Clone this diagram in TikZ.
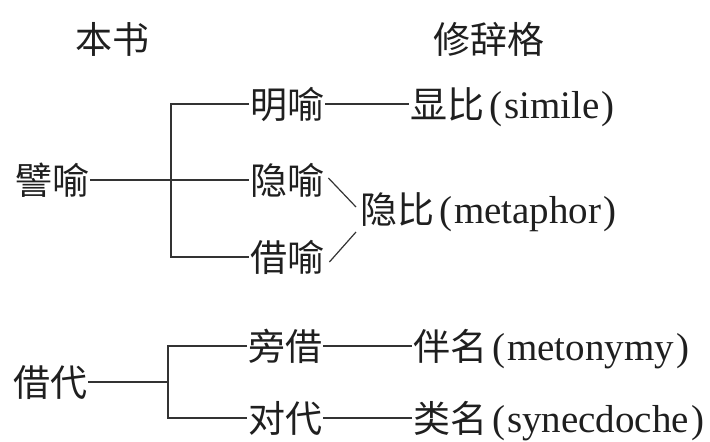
\documentclass[tikz,border=0pt]{standalone}
\usepackage{fontspec}
\setmainfont{Liberation Serif}
\newfontfamily\cjk{Noto Sans CJK SC}
\usetikzlibrary{calc}
\newcommand\latpar[1]{{\rmfamily\fontsize{39}{43}\selectfont\hspace{5pt}(\hspace{2pt}#1\hspace{2pt})}}
\begin{document}
\begin{tikzpicture}[x=1pt,y=-1pt,
  lbl/.style={anchor=west,inner xsep=1pt,inner ysep=0pt,text height=28pt,text depth=0pt,
    font=\cjk\fontsize{37}{40}\selectfont,text=black!88},
  link/.style={draw=black!80,line width=1.2pt}]
\useasboundingbox (0,0) rectangle (710,442);
% headers
\node[lbl] (hbook) at (74,39) {本书};
\node[lbl] (hrhet) at (432,39) {修辞格};
% group 1
\node[lbl] (piyu) at (14,180) {譬喻};
\node[lbl] (mingyu) at (249,104) {明喻};
\node[lbl] (yinyu) at (249,180) {隐喻};
\node[lbl] (jieyu) at (249,257) {借喻};
\node[lbl] (xianbi) at (409,104) {显比\latpar{simile}};
\node[lbl] (yinbi) at (359,209) {隐比\latpar{metaphor}};
\coordinate (v1) at (171,180);
\draw[link] (mingyu.west) -| (v1) |- (jieyu.west);
\draw[link] (piyu.east) -- (yinyu.west);
\draw[link] (mingyu.east) -- (xianbi.west);
\draw[link] ($(yinyu.east)+(3,-2)$) -- ($(yinbi.west)+(-3,-2)$);
\draw[link] ($(jieyu.east)+(4,5)$) -- ($(yinbi.west)+(-3,23)$);
% group 2
\node[lbl] (jiedai) at (12,382) {借代};
\node[lbl] (pangjie) at (247,346) {旁借};
\node[lbl] (duidai) at (247,418) {对代};
\node[lbl] (banming) at (412,346) {伴名\latpar{metonymy}};
\node[lbl] (leiming) at (412,418) {类名\latpar{synecdoche}};
\coordinate (v2) at (168,382);
\draw[link] (pangjie.west) -| (v2) |- (duidai.west);
\draw[link] (jiedai.east) -- (v2);
\draw[link] (pangjie.east) -- (banming.west);
\draw[link] (duidai.east) -- (leiming.west);
\end{tikzpicture}
\end{document}
